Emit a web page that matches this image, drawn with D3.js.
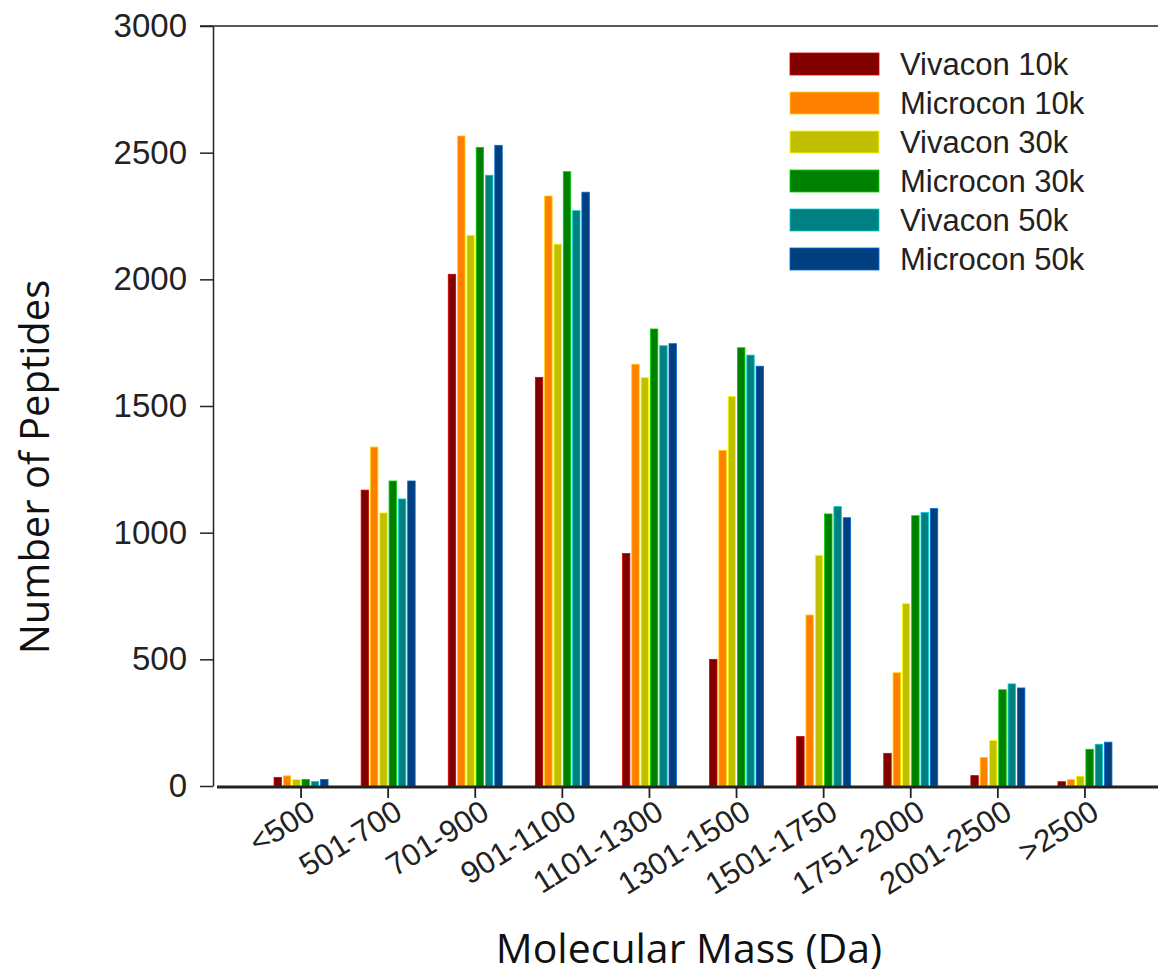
<!DOCTYPE html>
<html>
<head>
<meta charset="utf-8">
<script src="https://cdn.jsdelivr.net/npm/d3@7"></script>
<style>
  body { margin: 0; background: #fff; }
  svg { display: block; }
</style>
</head>
<body>
<svg id="chart"></svg>
<script>
// Mass bins
const categories = ["<500", "501-700", "701-900", "901-1100", "1101-1300",
  "1301-1500", "1501-1750", "1751-2000", "2001-2500", ">2500"];

// Series
const seriesNames = ["Vivacon 10k", "Microcon 10k", "Vivacon 30k",
  "Microcon 30k", "Vivacon 50k", "Microcon 50k"];
const vivacon10k  = [34, 1168, 2020, 1613, 918, 500, 195, 129, 41, 17];
const microcon10k = [40, 1338, 2566, 2329, 1665, 1325, 675, 447, 113, 25];
const vivacon30k  = [26, 1078, 2174, 2139, 1612, 1538, 911, 720, 180, 39];
const microcon30k = [26, 1204, 2521, 2425, 1804, 1730, 1074, 1067, 380, 145];
const vivacon50k  = [18, 1133, 2411, 2271, 1738, 1701, 1103, 1080, 403, 165];
const microcon50k = [26, 1204, 2529, 2344, 1746, 1657, 1059, 1095, 387, 173];
const yTicks = [0, 500, 1000, 1500, 2000, 2500, 3000];

const colors = ["#800000", "#ff8000", "#c0c000", "#008000", "#008080", "#004080"];
const allSeries = [vivacon10k, microcon10k, vivacon30k, microcon30k, vivacon50k, microcon50k];

const width = 1158, height = 977;
const svg = d3.select("#chart").attr("width", width).attr("height", height);

const tickFont = "'Liberation Sans', Arial, Helvetica, sans-serif";
const titleFont = "'Open Sans', 'Noto Sans', sans-serif";
const ink = "#222";

// Scales
const y = d3.scaleLinear().domain([0, 3000]).range([786, 26]);

const x = d3.scaleBand()
  .domain(categories)
  .range([257.5, 1128.5])
  .paddingInner(0.38)
  .paddingOuter(0.19);

const xInner = d3.scaleBand()
  .domain(seriesNames)
  .range([0, x.bandwidth()])
  .paddingInner(0.2)
  .paddingOuter(0);

const color = d3.scaleOrdinal().domain(seriesNames).range(colors);

// Top frame line
svg.append("line")
  .attr("x1", 200).attr("x2", width)
  .attr("y1", y(3000)).attr("y2", y(3000))
  .attr("stroke", ink).attr("stroke-width", 1.5);

// Bars
const rows = categories.map((c, i) => ({
  cat: c,
  vals: seriesNames.map((s, j) => ({ series: s, value: allSeries[j][i] }))
}));

const groups = svg.append("g")
  .selectAll("g")
  .data(rows)
  .join("g")
  .attr("transform", d => `translate(${x(d.cat)},0)`);

groups.selectAll("rect")
  .data(d => d.vals)
  .join("rect")
  .attr("x", d => xInner(d.series))
  .attr("y", d => y(d.value))
  .attr("width", xInner.bandwidth())
  .attr("height", d => y(0) - y(d.value))
  .attr("fill", d => color(d.series))
  .attr("stroke", d => d3.color(color(d.series)).brighter(1.4))
  .attr("stroke-width", 0.8);

// Y axis
const yAxis = svg.append("g")
  .attr("transform", "translate(213,0)")
  .call(d3.axisLeft(y).tickValues(yTicks).tickFormat(d3.format("d"))
    .tickSize(13).tickSizeOuter(0).tickPadding(13));
yAxis.select(".domain").attr("stroke", ink).attr("stroke-width", 1.5);
yAxis.selectAll(".tick line").attr("stroke", ink).attr("stroke-width", 1.5);
yAxis.selectAll(".tick text")
  .attr("font-family", tickFont)
  .attr("font-size", 33)
  .attr("fill", ink);

// X axis
svg.append("line")
  .attr("x1", 217).attr("x2", width)
  .attr("y1", 787).attr("y2", 787)
  .attr("stroke", ink).attr("stroke-width", 3);

const xAxis = svg.append("g")
  .attr("transform", "translate(0,787)")
  .call(d3.axisBottom(x).tickSize(11).tickSizeOuter(0));
xAxis.select(".domain").remove();
xAxis.selectAll(".tick line").attr("stroke", ink).attr("stroke-width", 1.8);
xAxis.selectAll(".tick text")
  .attr("font-family", tickFont)
  .attr("font-size", 31)
  .attr("fill", ink)
  .attr("text-anchor", "end")
  .attr("y", 0)
  .attr("dy", 0)
  .attr("transform", "translate(16,30) rotate(-32)");

// Axis titles
svg.append("text")
  .attr("transform", "translate(49,467) rotate(-90)")
  .attr("text-anchor", "middle")
  .attr("font-family", titleFont)
  .attr("font-size", 40)
  .attr("fill", "#111")
  .text("Number of Peptides");

svg.append("text")
  .attr("x", 689)
  .attr("y", 963)
  .attr("text-anchor", "middle")
  .attr("font-family", titleFont)
  .attr("font-size", 41)
  .attr("fill", "#111")
  .text("Molecular Mass (Da)");

// Legend
const legend = svg.append("g").attr("transform", "translate(790,53)");
const item = legend.selectAll("g")
  .data(seriesNames)
  .join("g")
  .attr("transform", (d, i) => `translate(0,${i * 39})`);

item.append("rect")
  .attr("width", 89)
  .attr("height", 22)
  .attr("fill", d => color(d))
  .attr("stroke", d => d3.color(color(d)).brighter(1.4))
  .attr("stroke-width", 0.8);

item.append("text")
  .attr("x", 110)
  .attr("y", 22)
  .attr("font-family", tickFont)
  .attr("font-size", 31)
  .attr("fill", ink)
  .text(d => d);
</script>
</body>
</html>
